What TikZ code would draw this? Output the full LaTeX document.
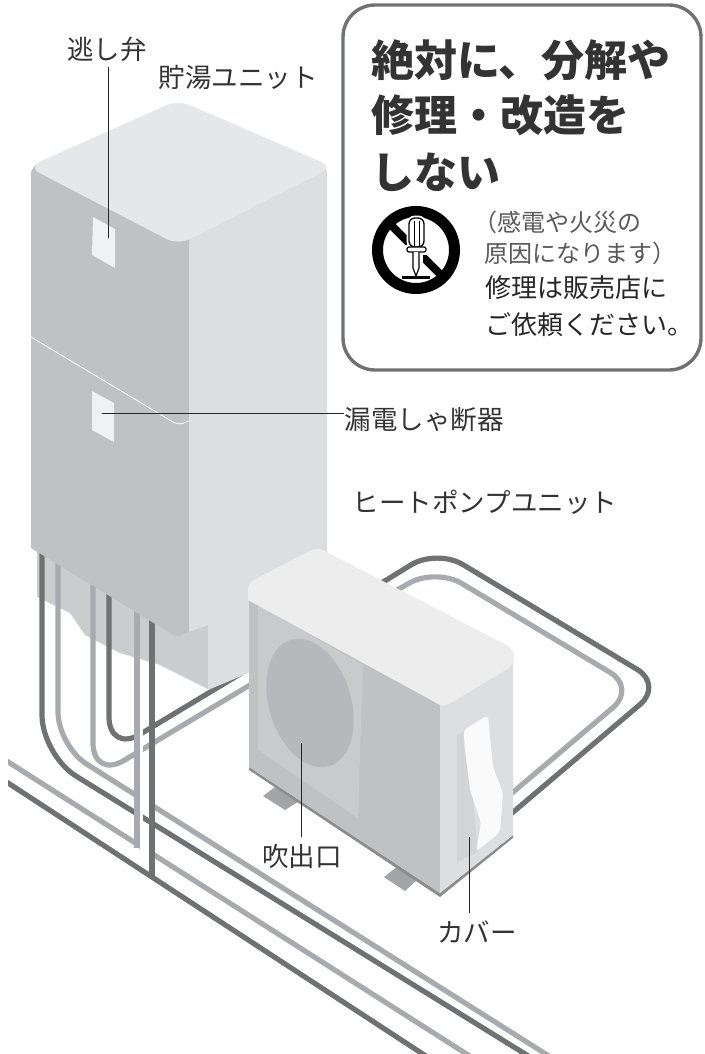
\documentclass[tikz,border=0pt]{standalone}
\usepackage{fontspec}
\setmainfont{Noto Sans CJK JP}
\usetikzlibrary{positioning,calc}

\definecolor{pipedark}{HTML}{707173}
\definecolor{pipelight}{HTML}{A9AAAD}
\definecolor{faceleft}{HTML}{C0C1C3}
\definecolor{faceright}{HTML}{DDDEE0}
\definecolor{facetop}{HTML}{E6E7E9}
\definecolor{recess}{HTML}{CBCCCE}
\definecolor{captop}{HTML}{EDEDEE}
\definecolor{panel}{HTML}{C9CACC}
\definecolor{fan}{HTML}{B7B8BB}
\definecolor{foot}{HTML}{A3A4A6}
\definecolor{inkc}{HTML}{333333}

\tikzset{
  pipe dk/.style={draw=pipedark, line width=5.2pt},
  pipe lt/.style={draw=pipelight, line width=5.2pt},
  lbl/.style={font=\fontsize{26.5}{26.5}\selectfont, text=inkc, inner sep=0pt, text height=22pt, text depth=4pt},
  ttl/.style={font=\fontsize{43}{43}\selectfont\bfseries, text=inkc, inner sep=0pt, anchor=west},
  note/.style={font=\fontsize{24}{24}\selectfont, text=black!65, inner sep=0pt, anchor=west},
  msg/.style={font=\fontsize{26}{26}\selectfont, text=black!85, inner sep=0pt, anchor=west},
  leader/.style={draw=black!85, line width=0.8pt},
}

\begin{document}
\begin{tikzpicture}[x=1pt, y=-1pt]
  \useasboundingbox (0,0) rectangle (704,1054);

  % recess under the tank
  \fill[recess] (37,545) -- (37,597) -- (70,613) -- (85,635) -- (120,653) -- (160,665) -- (208,689) -- (208,620) -- (178,630) -- cycle;

  % pipes
  \draw[pipe dk, rounded corners=40pt] (42,550) -- (42,755) -- (530,1057);
  \draw[pipe lt, rounded corners=34pt] (58,560) -- (58,746) -- (560,1063);
  \draw[pipe lt] (2,758) -- (476,1060);
  \draw[pipe dk] (2,779) -- (432,1060);
  \fill[white] (0,740) rectangle (8,800);
  \draw[pipe lt, rounded corners=36pt] (93,580) -- (93,779) -- (255,682);
  \draw[pipe dk, rounded corners=36pt] (109,590) -- (109,753) -- (255,665);
  \draw[pipe dk, rounded corners=30pt] (370,590) -- (437,549) -- (663,685) -- (505,819);
  \draw[pipe lt, rounded corners=30pt] (390,594) -- (436,568) -- (636,688) -- (505,799);

  % gaps at the crossings
  \fill[white] (140,785) rectangle (149.5,808);
  \fill[white] (140,838) rectangle (149.5,862);
  \fill[white] (140,806) rectangle (142.5,824);
  \fill[white] (140,725) rectangle (142.5,762);

  \draw[pipe lt] (137,610) -- (137,848);
  \draw[pipe dk] (152,618) -- (152,877);

  % tank
  \fill[faceleft] (31,548) -- (31,172) -- (35,165) -- (189,165) -- (189,632) -- (180,636) -- (175,636) -- cycle;
  \fill[faceright] (189,165) -- (325,165) -- (327,172) -- (327,640) -- (208,690) -- (208,625) -- (189,632) -- cycle;
  \fill[facetop, rounded corners=13pt] (28,167) -- (178,100) -- (333,167) -- (178,245) -- cycle;
  \fill[facetop!60!white] (92,391) -- (114,403) -- (114,442) -- (92,430) -- cycle;
  \fill[facetop!60!white] (93,217) -- (115,229) -- (115,268) -- (92,255) -- cycle;
  \draw[white, line width=0.8pt, rounded corners=5pt] (31,337) -- (178,425) -- (189,421);

  % heat pump
  \fill[foot] (263,796) -- (275,787) -- (298,802) -- (285,810) -- cycle;
  \fill[foot] (384,877) -- (397,867) -- (417,880) -- (405,891) -- cycle;
  \fill[black!45] (249,767) -- (440,893) -- (513,835) -- (513,838) -- (440,897) -- (249,770) -- cycle;
  \fill[faceleft] (249,590) -- (445,700) -- (440,893) -- (249,767) -- cycle;
  \fill[panel] (258,605) -- (363,665) -- (358,818) -- (258,750) -- cycle;
  \fill[fan] (310,703) ellipse [x radius=41, y radius=66, rotate=17];
  \fill[faceright] (440,700) -- (513,660) -- (513,835) -- (440,893) -- cycle;
  \fill[captop] (248,600) [rounded corners=7pt] -- (248,583) -- (317,547) -- (514,649) -- (514,665) -- (444,707) [sharp corners] -- (440,705) -- cycle;
  \fill[recess!85!white] (457,735) -- (466,730) -- (478,852) -- (457,862) -- cycle;
  \fill[white!85!faceright, rounded corners=4pt] (463.5,730) -- (488,715) -- (493,767) -- (503,793) -- (500,832) -- (476,852) -- (481,823) -- (470,790) -- (465,750) -- cycle;

  % callout
  \node[draw=pipedark, line width=3.4pt, rounded corners=32pt, minimum width=358pt, minimum height=365pt] at (522,187.5) (n_box) {};
  \node[ttl] at (371,60) (n_t1) {絶対に、分解や};
  \node[ttl] at (371,115) (n_t2) {修理・改造を};
  \node[ttl] at (371,172) (n_t3) {しない};
  \node[note] at (473,222) (n_n1) {（感電や火災の};
  \node[note] at (484,253) (n_n2) {原因になります）};
  \node[msg] at (485,288) (n_m1) {修理は販売店に};
  \node[msg] at (485,325) (n_m2) {ご依頼ください。};

  % prohibition sign
  \draw[black, line width=11pt] (416,250) circle (38.5);
  \draw[black, line width=8pt] (388,222) -- (444,278);
  \draw[white, line width=5pt, rounded corners=6pt] (409,247) -- (409,218) -- (424,218) -- (424,247) -- cycle;
  \fill[white] (405,245) rectangle (428,255);
  \fill[white] (410,252) rectangle (423,276);
  \filldraw[fill=white, draw=black, line width=1.3pt, rounded corners=6pt] (409,247) -- (409,218) -- (424,218) -- (424,247) -- cycle;
  \draw[black, line width=1pt] (414,221) -- (414,247) (419,221) -- (419,247);
  \filldraw[fill=white, draw=black, line width=1.2pt, rounded corners=2pt] (407,247) rectangle (426,252);
  \filldraw[fill=white, draw=black, line width=1.2pt] (413,252) -- (413,268) -- (416,276) -- (419,268) -- (419,252);
  \fill[black] (402,276) rectangle (430,279);

  % labels
  \node[lbl] at (107,51) (n_valve) {逃し弁};
  \node[lbl] at (238,79) (n_tank) {貯湯ユニット};
  \node[lbl] at (424,420) (n_breaker) {漏電しゃ断器};
  \node[lbl] at (485,503) (n_hp) {ヒートポンプユニット};
  \node[lbl] at (302,857) (n_blow) {吹出口};
  \node[lbl] at (477,933) (n_cover) {カバー};

  \coordinate (c_valve) at (108,238);
  \coordinate (c_breaker) at (102,413);
  \coordinate (c_blow) at (301,743);
  \coordinate (c_cover) at (469,837);
  \draw[leader, shorten <=3pt] (n_valve.south -| c_valve) -- (c_valve);
  \draw[leader] (c_breaker) -- (n_breaker.west |- c_breaker);
  \draw[leader, shorten <=7pt] (n_blow.north -| c_blow) -- (c_blow);
  \draw[leader, shorten <=7pt] (n_cover.north -| c_cover) -- (c_cover);
\end{tikzpicture}
\end{document}
